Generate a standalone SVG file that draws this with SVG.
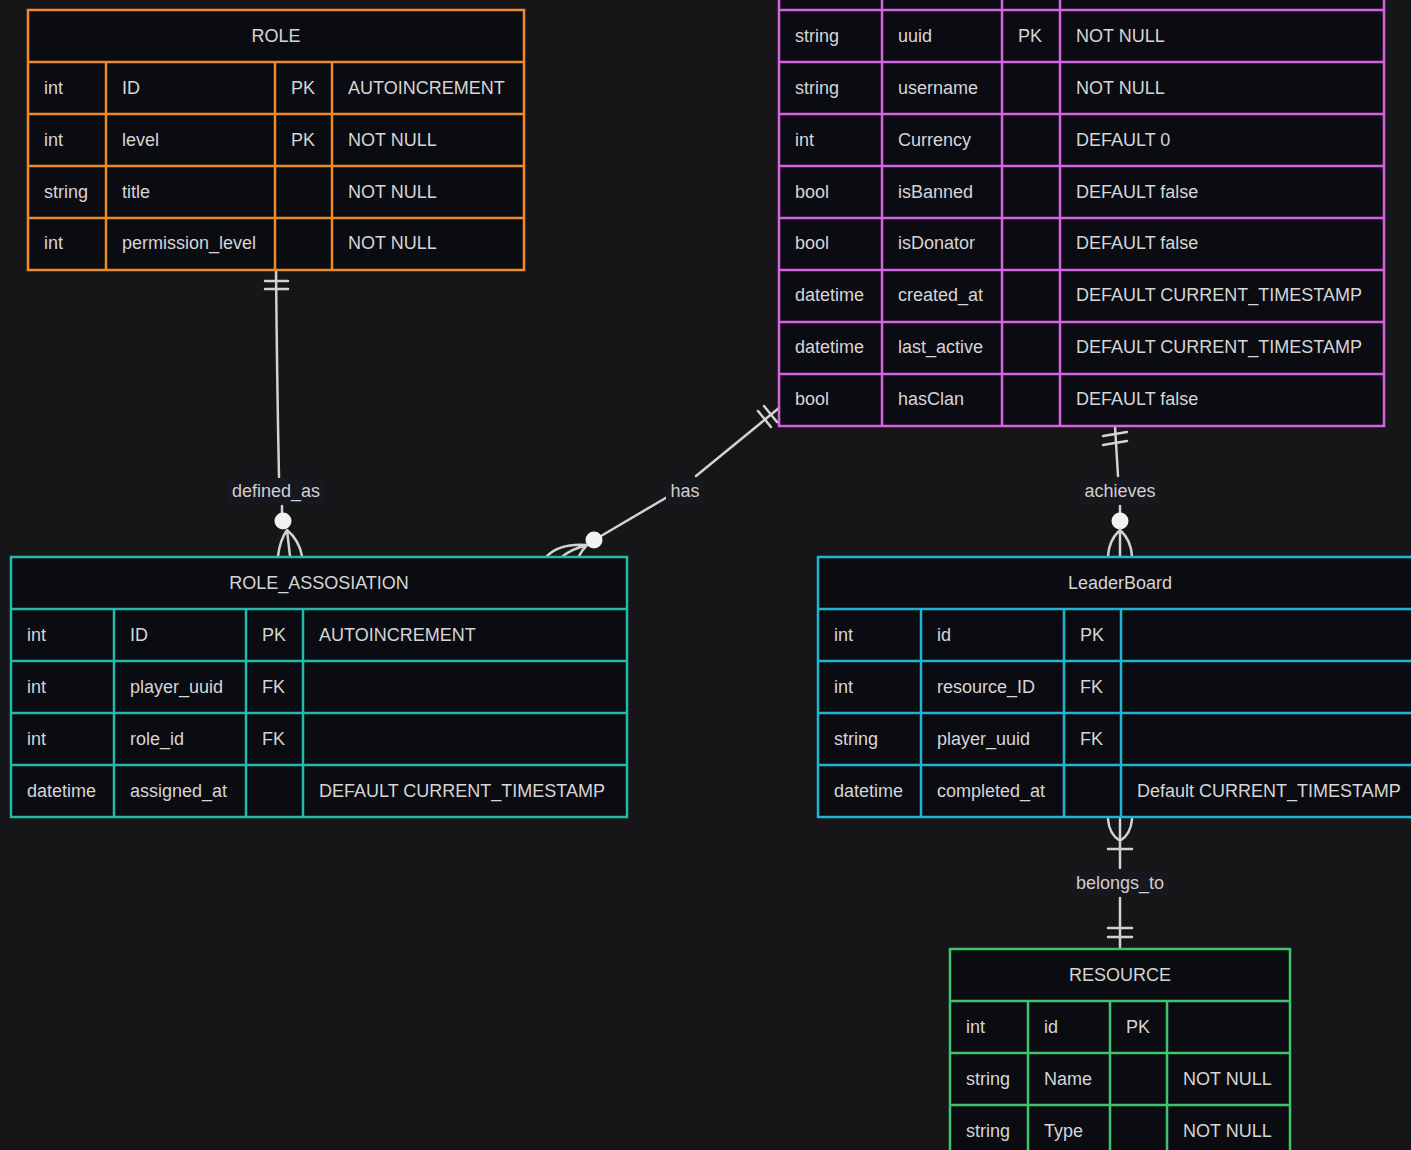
<svg xmlns="http://www.w3.org/2000/svg" width="1411" height="1150" viewBox="0 0 1411 1150">
<style>
.bg{fill:#161619}
.tb{fill:#0b0b12;stroke-width:2.5}
.ln{stroke-width:2.5;fill:none}
.or{stroke:#ee8a2c}
.pk{stroke:#d563e0}
.tl{stroke:#27b9a7}
.cy{stroke:#1fb6d2}
.gr{stroke:#3fc46d}
text{font-family:"Liberation Sans",Arial,sans-serif;font-size:18px;fill:#d6d6d6}
.h{text-anchor:middle}
.c{stroke:#d2d2d2;stroke-width:2.5;fill:none;stroke-linecap:round}
.dot{fill:#f2f2f2}
.lb{fill:#17171e}
.lt{text-anchor:middle;fill:#cfcfcf}
</style>
<rect class="bg" x="0" y="0" width="1411" height="1150"/>

<g id="connectors">
  <!-- defined_as -->
  <path class="c" d="M276,270 Q277,380 279,477"/>
  <path class="c" d="M265,281 L288,281 M265,289 L288,289"/>
  <path class="c" d="M282,506 L282,514"/>
  <circle class="dot" cx="283" cy="521" r="8.5"/>
  <path class="c" d="M287,530 Q280,540 278,556 M287,530 Q299,540 302,556 M287,530 L290,556"/>
  <rect class="lb" x="228" y="478" width="96" height="26"/>
  <text class="lt" x="276" y="497">defined_as</text>

  <!-- has -->
  <path class="c" d="M779,408 L696,476"/>
  <path class="c" d="M764,406 L777,422 M758,411 L771,427"/>
  <path class="c" d="M669,496 L601,536"/>
  <circle class="dot" cx="594" cy="540" r="8.5"/>
  <path class="c" d="M587,545 Q560,543 547,556 M587,545 Q572,549 563,556 M587,545 Q582,550 579,556"/>
  <rect class="lb" x="666" y="478" width="38" height="26"/>
  <text class="lt" x="685" y="497">has</text>

  <!-- achieves -->
  <path class="c" d="M1115,426 L1118,476"/>
  <path class="c" d="M1103,436 L1127,432 M1103,445 L1127,441"/>
  <path class="c" d="M1120,506 L1120,514"/>
  <circle class="dot" cx="1120" cy="521" r="8.5"/>
  <path class="c" d="M1120,530 Q1109,540 1108,556 M1120,530 Q1131,540 1132,556 M1120,530 L1120,556"/>
  <rect class="lb" x="1080" y="478" width="80" height="26"/>
  <text class="lt" x="1120" y="497">achieves</text>

  <!-- belongs_to -->
  <path class="c" d="M1108,819 Q1109,834 1120,841 M1132,819 Q1131,834 1120,841 M1120,819 L1120,868"/>
  <path class="c" d="M1108,849 L1132,849"/>
  <path class="c" d="M1120,898 L1120,948"/>
  <path class="c" d="M1108,928 L1132,928 M1108,937 L1132,937"/>
  <rect class="lb" x="1071" y="870" width="98" height="26"/>
  <text class="lt" x="1120" y="889">belongs_to</text>
</g>

<g id="ROLE">
  <rect class="tb or" x="28" y="10" width="496" height="260"/>
  <path class="ln or" d="M28,62H524M28,114H524M28,166H524M28,218H524M106,62V270M275,62V270M332,62V270"/>
  <text class="h" x="276" y="42">ROLE</text>
  <text x="44" y="94">int</text><text x="122" y="94">ID</text><text x="291" y="94">PK</text><text x="348" y="94">AUTOINCREMENT</text>
  <text x="44" y="146">int</text><text x="122" y="146">level</text><text x="291" y="146">PK</text><text x="348" y="146">NOT NULL</text>
  <text x="44" y="198">string</text><text x="122" y="198">title</text><text x="348" y="198">NOT NULL</text>
  <text x="44" y="249">int</text><text x="122" y="249">permission_level</text><text x="348" y="249">NOT NULL</text>
</g>

<g id="PLAYER">
  <rect class="tb pk" x="779" y="-94" width="605" height="520"/>
  <path class="ln pk" d="M779,-42H1384M779,10H1384M779,62H1384M779,114H1384M779,166H1384M779,218H1384M779,270H1384M779,322H1384M779,374H1384M882,-42V426M1002,-42V426M1060,-42V426"/>
  <text x="795" y="42">string</text><text x="898" y="42">uuid</text><text x="1018" y="42">PK</text><text x="1076" y="42">NOT NULL</text>
  <text x="795" y="94">string</text><text x="898" y="94">username</text><text x="1076" y="94">NOT NULL</text>
  <text x="795" y="146">int</text><text x="898" y="146">Currency</text><text x="1076" y="146">DEFAULT 0</text>
  <text x="795" y="198">bool</text><text x="898" y="198">isBanned</text><text x="1076" y="198">DEFAULT false</text>
  <text x="795" y="249">bool</text><text x="898" y="249">isDonator</text><text x="1076" y="249">DEFAULT false</text>
  <text x="795" y="301">datetime</text><text x="898" y="301">created_at</text><text x="1076" y="301">DEFAULT CURRENT_TIMESTAMP</text>
  <text x="795" y="353">datetime</text><text x="898" y="353">last_active</text><text x="1076" y="353">DEFAULT CURRENT_TIMESTAMP</text>
  <text x="795" y="405">bool</text><text x="898" y="405">hasClan</text><text x="1076" y="405">DEFAULT false</text>
</g>

<g id="ROLE_ASSOSIATION">
  <rect class="tb tl" x="11" y="557" width="616" height="260"/>
  <path class="ln tl" d="M11,609H627M11,661H627M11,713H627M11,765H627M114,609V817M246,609V817M303,609V817"/>
  <text class="h" x="319" y="589">ROLE_ASSOSIATION</text>
  <text x="27" y="641">int</text><text x="130" y="641">ID</text><text x="262" y="641">PK</text><text x="319" y="641">AUTOINCREMENT</text>
  <text x="27" y="693">int</text><text x="130" y="693">player_uuid</text><text x="262" y="693">FK</text>
  <text x="27" y="745">int</text><text x="130" y="745">role_id</text><text x="262" y="745">FK</text>
  <text x="27" y="797">datetime</text><text x="130" y="797">assigned_at</text><text x="319" y="797">DEFAULT CURRENT_TIMESTAMP</text>
</g>

<g id="LeaderBoard">
  <rect class="tb cy" x="818" y="557" width="604" height="260"/>
  <path class="ln cy" d="M818,609H1422M818,661H1422M818,713H1422M818,765H1422M921,609V817M1064,609V817M1121,609V817"/>
  <text class="h" x="1120" y="589">LeaderBoard</text>
  <text x="834" y="641">int</text><text x="937" y="641">id</text><text x="1080" y="641">PK</text>
  <text x="834" y="693">int</text><text x="937" y="693">resource_ID</text><text x="1080" y="693">FK</text>
  <text x="834" y="745">string</text><text x="937" y="745">player_uuid</text><text x="1080" y="745">FK</text>
  <text x="834" y="797">datetime</text><text x="937" y="797">completed_at</text><text x="1137" y="797">Default CURRENT_TIMESTAMP</text>
</g>

<g id="RESOURCE">
  <rect class="tb gr" x="950" y="949" width="340" height="260"/>
  <path class="ln gr" d="M950,1001H1290M950,1053H1290M950,1105H1290M1028,1001V1209M1110,1001V1209M1167,1001V1209"/>
  <text class="h" x="1120" y="981">RESOURCE</text>
  <text x="966" y="1033">int</text><text x="1044" y="1033">id</text><text x="1126" y="1033">PK</text>
  <text x="966" y="1085">string</text><text x="1044" y="1085">Name</text><text x="1183" y="1085">NOT NULL</text>
  <text x="966" y="1137">string</text><text x="1044" y="1137">Type</text><text x="1183" y="1137">NOT NULL</text>
</g>
</svg>
